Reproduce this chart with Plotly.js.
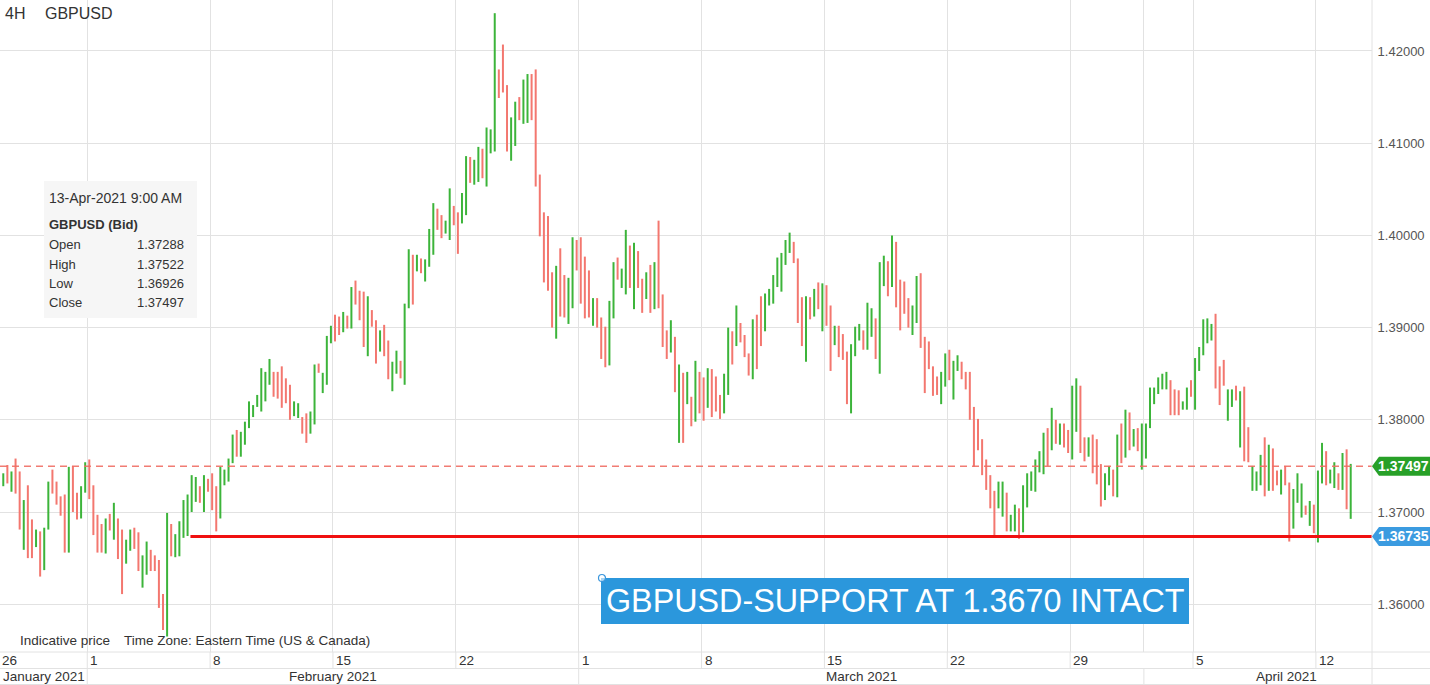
<!DOCTYPE html>
<html><head><meta charset="utf-8">
<script src="https://cdn.plot.ly/plotly-3.0.1.min.js"></script>
<style>html,body{margin:0;padding:0;background:#fff;overflow:hidden}#chart{width:1430px;height:685px}</style>
</head><body><div id="chart"></div>
<script>
// ---- GBPUSD 4H bars (26-Jan-2021 13:00 ET ... 13-Apr-2021 09:00 ET) ----
const open = [
1.3730,1.3749,1.3724,1.3756,1.3742,1.3661,1.3727,1.3690,1.3664,1.3677,
1.3639,1.3683,1.3744,1.3731,1.3715,1.3717,1.3658,1.3748,1.3719,1.3695,
1.3723,1.3755,1.3727,1.3695,1.3685,1.3657,1.3696,1.3672,1.3691,1.3679,
1.3646,1.3660,1.3681,1.3676,1.3620,1.3634,1.3657,1.3651,1.3646,1.3609,
1.3567,1.3685,1.3653,1.3654,1.3674,1.3676,1.3702,1.3713,1.3726,1.3702,
1.3734,1.3740,1.3726,1.3695,1.3731,1.3735,1.3755,1.3787,1.3762,1.3775,
1.3793,1.3805,1.3816,1.3811,1.3822,1.3840,1.3850,1.3850,1.3856,1.3843,
1.3836,1.3806,1.3804,1.3801,1.3805,1.3787,1.3797,1.3859,1.3831,1.3840,
1.3885,1.3912,1.3910,1.3897,1.3911,1.3901,1.3949,1.3938,1.3937,1.3871,
1.3917,1.3906,1.3876,1.3901,1.3884,1.3833,1.3852,1.3862,1.3840,1.3923,
1.3977,1.3963,1.3973,1.3952,1.3968,1.3981,1.4027,1.4020,1.4004,1.3997,
1.4030,1.4023,1.4015,1.4024,1.4083,1.4057,1.4060,1.4092,1.4055,1.4091,
1.4093,1.4178,1.4205,1.4161,1.4083,1.4099,1.4148,1.4123,1.4124,1.4173,
1.4178,1.4064,1.4023,1.4019,1.3958,1.3890,1.3984,1.3955,1.3906,1.3923,
1.3993,1.3996,1.3975,1.3960,1.3904,1.3930,1.3909,1.3899,1.3861,1.3912,
1.3974,1.3945,1.3938,1.3987,1.3922,1.3981,1.3951,1.3933,1.3966,1.3922,
1.4014,1.3934,1.3895,1.3875,1.3888,1.3777,1.3849,1.3819,1.3823,1.3800,
1.3850,1.3844,1.3815,1.3853,1.3845,1.3825,1.3809,1.3829,1.3894,1.3882,
1.3903,1.3890,1.3870,1.3846,1.3912,1.3932,1.3898,1.3926,1.3928,1.3946,
1.3941,1.3970,1.3983,1.3991,1.3973,1.3931,1.3865,1.3931,1.3914,1.3947,
1.3898,1.3944,1.3922,1.3883,1.3900,1.3891,1.3872,1.3809,1.3871,1.3888,
1.3895,1.3878,1.3892,1.3908,1.3852,1.3947,1.3970,1.3946,1.3991,1.3950,
1.3948,1.3930,1.3894,1.3907,1.3957,1.3888,1.3883,1.3856,1.3845,1.3819,
1.3838,1.3874,1.3824,1.3855,1.3861,1.3850,1.3850,1.3812,1.3799,1.3777,
1.3755,1.3738,1.3721,1.3706,1.3697,1.3719,1.3681,1.3681,1.3702,1.3680,
1.3707,1.3725,1.3724,1.3745,1.3743,1.3789,1.3769,1.3798,1.3775,1.3794,
1.3787,1.3759,1.3789,1.3835,1.3779,1.3762,1.3782,1.3777,1.3750,1.3715,
1.3731,1.3744,1.3718,1.3794,1.3761,1.3806,1.3773,1.3789,1.3748,1.3760,
1.3793,1.3819,1.3830,1.3835,1.3835,1.3841,1.3831,1.3830,1.3813,1.3813,
1.3841,1.3813,1.3855,1.3872,1.3885,1.3888,1.3913,1.3856,1.3863,1.3801,
1.3816,1.3835,1.3772,1.3834,1.3790,1.3725,1.3725,1.3731,1.3779,1.3725,
1.3767,1.3743,1.3721,1.3748,1.3730,1.3684,1.3712,1.3696,1.3705,1.3687,
1.3706,1.3669,1.3733,1.3764,1.3733,1.3728,1.3740,1.3726,1.3766,1.37288];
const high = [
1.3742,1.3751,1.3744,1.3758,1.3744,1.3713,1.3729,1.3692,1.3681,1.3679,
1.3683,1.3733,1.3746,1.3733,1.3717,1.3719,1.3749,1.3750,1.3721,1.3728,
1.3754,1.3757,1.3729,1.3697,1.3687,1.3693,1.3698,1.3710,1.3693,1.3681,
1.3670,1.3681,1.3683,1.3678,1.3653,1.3668,1.3659,1.3653,1.3648,1.3611,
1.3699,1.3687,1.3676,1.3690,1.3713,1.3719,1.3740,1.3738,1.3728,1.3740,
1.3736,1.3742,1.3728,1.3749,1.3746,1.3758,1.3784,1.3789,1.3787,1.3798,
1.3820,1.3816,1.3827,1.3856,1.3852,1.3866,1.3852,1.3852,1.3858,1.3845,
1.3838,1.3820,1.3818,1.3803,1.3807,1.3809,1.3860,1.3861,1.3851,1.3891,
1.3902,1.3914,1.3912,1.3917,1.3913,1.3944,1.3951,1.3940,1.3939,1.3934,
1.3919,1.3908,1.3897,1.3903,1.3886,1.3863,1.3875,1.3864,1.3926,1.3985,
1.3979,1.3979,1.3975,1.3974,1.4007,1.4035,1.4029,1.4022,1.4016,1.4051,
1.4032,1.4025,1.4046,1.4086,1.4085,1.4082,1.4096,1.4094,1.4117,1.4115,
1.4241,1.4180,1.4207,1.4163,1.4128,1.4145,1.4150,1.4169,1.4175,1.4175,
1.4180,1.4066,1.4025,1.4021,1.3960,1.3967,1.3986,1.3957,1.3954,1.3998,
1.3995,1.3998,1.3977,1.3962,1.3932,1.3932,1.3911,1.3901,1.3929,1.3971,
1.3976,1.3964,1.4006,1.3989,1.3992,1.3983,1.3953,1.3960,1.3968,1.3971,
1.4016,1.3936,1.3897,1.3908,1.3890,1.3860,1.3851,1.3852,1.3825,1.3864,
1.3852,1.3846,1.3856,1.3855,1.3847,1.3827,1.3850,1.3900,1.3896,1.3924,
1.3905,1.3892,1.3872,1.3909,1.3914,1.3934,1.3937,1.3942,1.3957,1.3976,
1.3981,1.3995,1.4003,1.3993,1.3975,1.3933,1.3934,1.3933,1.3942,1.3949,
1.3948,1.3946,1.3924,1.3902,1.3902,1.3893,1.3874,1.3882,1.3901,1.3904,
1.3897,1.3927,1.3921,1.3910,1.3971,1.3978,1.3972,1.4000,1.3993,1.3952,
1.3950,1.3932,1.3924,1.3956,1.3959,1.3890,1.3885,1.3858,1.3847,1.3852,
1.3872,1.3876,1.3864,1.3870,1.3863,1.3852,1.3852,1.3814,1.3801,1.3779,
1.3757,1.3740,1.3723,1.3733,1.3733,1.3721,1.3697,1.3708,1.3704,1.3729,
1.3742,1.3744,1.3757,1.3766,1.3786,1.3791,1.3813,1.3800,1.3796,1.3796,
1.3789,1.3837,1.3845,1.3837,1.3781,1.3781,1.3784,1.3779,1.3752,1.3742,
1.3750,1.3746,1.3784,1.3796,1.3811,1.3808,1.3790,1.3791,1.3796,1.3796,
1.3835,1.3835,1.3846,1.3850,1.3852,1.3843,1.3833,1.3832,1.3820,1.3835,
1.3843,1.3867,1.3879,1.3909,1.3910,1.3904,1.3915,1.3858,1.3865,1.3833,
1.3833,1.3837,1.3831,1.3836,1.3792,1.3750,1.3744,1.3762,1.3781,1.3773,
1.3769,1.3745,1.3746,1.3750,1.3732,1.3725,1.3742,1.3731,1.3707,1.3712,
1.3708,1.3745,1.3775,1.3766,1.3746,1.3754,1.3742,1.3764,1.3768,1.37522];
const low = [
1.3728,1.3731,1.3722,1.3720,1.3681,1.3659,1.3650,1.3650,1.3662,1.3630,
1.3637,1.3681,1.3720,1.3708,1.3696,1.3656,1.3656,1.3700,1.3692,1.3693,
1.3721,1.3714,1.3675,1.3656,1.3656,1.3655,1.3680,1.3670,1.3649,1.3611,
1.3644,1.3658,1.3660,1.3636,1.3618,1.3632,1.3636,1.3636,1.3596,1.3572,
1.3565,1.3652,1.3651,1.3652,1.3672,1.3674,1.3700,1.3711,1.3710,1.3700,
1.3722,1.3702,1.3679,1.3693,1.3729,1.3733,1.3753,1.3760,1.3760,1.3773,
1.3791,1.3803,1.3814,1.3809,1.3820,1.3838,1.3825,1.3823,1.3813,1.3818,
1.3800,1.3804,1.3802,1.3785,1.3775,1.3785,1.3795,1.3851,1.3829,1.3838,
1.3883,1.3885,1.3892,1.3895,1.3899,1.3899,1.3925,1.3908,1.3879,1.3869,
1.3901,1.3861,1.3874,1.3869,1.3844,1.3831,1.3850,1.3845,1.3838,1.3921,
1.3925,1.3961,1.3959,1.3950,1.3966,1.3979,1.4006,1.3997,1.4002,1.3995,
1.4011,1.3980,1.4013,1.4022,1.4057,1.4055,1.4058,1.4062,1.4053,1.4089,
1.4091,1.4149,1.4155,1.4091,1.4081,1.4097,1.4125,1.4121,1.4122,1.4125,
1.4053,1.3999,1.3949,1.3940,1.3900,1.3888,1.3912,1.3911,1.3904,1.3921,
1.3962,1.3926,1.3910,1.3911,1.3902,1.3900,1.3866,1.3857,1.3859,1.3910,
1.3952,1.3943,1.3936,1.3943,1.3920,1.3943,1.3916,1.3931,1.3916,1.3920,
1.3921,1.3879,1.3866,1.3873,1.3830,1.3775,1.3775,1.3817,1.3793,1.3798,
1.3807,1.3799,1.3813,1.3803,1.3809,1.3801,1.3807,1.3827,1.3860,1.3880,
1.3884,1.3868,1.3848,1.3844,1.3855,1.3880,1.3896,1.3924,1.3926,1.3944,
1.3939,1.3968,1.3981,1.3970,1.3905,1.3880,1.3863,1.3909,1.3912,1.3920,
1.3896,1.3902,1.3853,1.3881,1.3868,1.3865,1.3817,1.3807,1.3869,1.3886,
1.3876,1.3876,1.3890,1.3866,1.3850,1.3945,1.3934,1.3944,1.3922,1.3897,
1.3915,1.3900,1.3892,1.3905,1.3878,1.3829,1.3855,1.3826,1.3827,1.3817,
1.3836,1.3843,1.3822,1.3853,1.3844,1.3833,1.3800,1.3749,1.3767,1.3740,
1.3724,1.3704,1.3675,1.3704,1.3695,1.3679,1.3679,1.3679,1.3671,1.3678,
1.3705,1.3723,1.3722,1.3743,1.3741,1.3750,1.3767,1.3774,1.3773,1.3770,
1.3764,1.3757,1.3787,1.3764,1.3755,1.3760,1.3742,1.3730,1.3706,1.3713,
1.3729,1.3717,1.3716,1.3753,1.3759,1.3767,1.3771,1.3766,1.3746,1.3758,
1.3791,1.3817,1.3828,1.3833,1.3833,1.3805,1.3805,1.3805,1.3811,1.3811,
1.3825,1.3811,1.3853,1.3870,1.3883,1.3886,1.3834,1.3816,1.3837,1.3799,
1.3814,1.3821,1.3770,1.3755,1.3754,1.3723,1.3723,1.3729,1.3717,1.3723,
1.3723,1.3729,1.3719,1.3729,1.3668,1.3682,1.3710,1.3694,1.3697,1.3685,
1.3677,1.3667,1.3731,1.3729,1.3731,1.3726,1.3724,1.3724,1.3703,1.36926];
const close = [
1.3740,1.3733,1.3742,1.3722,1.3683,1.3711,1.3652,1.3652,1.3679,1.3632,
1.3681,1.3731,1.3722,1.3710,1.3698,1.3658,1.3747,1.3702,1.3694,1.3726,
1.3752,1.3716,1.3677,1.3658,1.3658,1.3691,1.3682,1.3708,1.3651,1.3613,
1.3668,1.3679,1.3662,1.3638,1.3651,1.3666,1.3638,1.3638,1.3598,1.3574,
1.3697,1.3654,1.3674,1.3688,1.3711,1.3717,1.3738,1.3736,1.3712,1.3738,
1.3724,1.3704,1.3681,1.3747,1.3744,1.3756,1.3782,1.3762,1.3785,1.3796,
1.3818,1.3814,1.3825,1.3854,1.3850,1.3864,1.3827,1.3825,1.3815,1.3820,
1.3802,1.3818,1.3816,1.3787,1.3777,1.3807,1.3858,1.3853,1.3849,1.3889,
1.3900,1.3887,1.3894,1.3915,1.3901,1.3942,1.3927,1.3910,1.3881,1.3932,
1.3903,1.3863,1.3895,1.3871,1.3846,1.3861,1.3873,1.3847,1.3924,1.3983,
1.3927,1.3977,1.3961,1.3972,1.4005,1.4033,1.4008,1.3999,1.4014,1.4049,
1.4013,1.3982,1.4044,1.4084,1.4059,1.4080,1.4094,1.4064,1.4115,1.4113,
1.4239,1.4151,1.4157,1.4093,1.4126,1.4143,1.4127,1.4167,1.4173,1.4127,
1.4055,1.4001,1.3951,1.3942,1.3902,1.3965,1.3914,1.3913,1.3952,1.3996,
1.3964,1.3928,1.3912,1.3913,1.3930,1.3902,1.3868,1.3859,1.3927,1.3969,
1.3954,1.3962,1.4004,1.3945,1.3990,1.3945,1.3918,1.3958,1.3918,1.3969,
1.3923,1.3881,1.3868,1.3906,1.3832,1.3858,1.3777,1.3850,1.3795,1.3862,
1.3809,1.3801,1.3854,1.3805,1.3811,1.3803,1.3848,1.3898,1.3862,1.3922,
1.3886,1.3870,1.3850,1.3907,1.3857,1.3882,1.3935,1.3940,1.3955,1.3974,
1.3979,1.3993,1.4001,1.3972,1.3907,1.3882,1.3932,1.3911,1.3940,1.3922,
1.3946,1.3904,1.3855,1.3900,1.3870,1.3867,1.3819,1.3880,1.3899,1.3902,
1.3878,1.3925,1.3919,1.3868,1.3969,1.3976,1.3936,1.3998,1.3924,1.3899,
1.3917,1.3902,1.3922,1.3954,1.3880,1.3831,1.3857,1.3828,1.3829,1.3850,
1.3870,1.3845,1.3862,1.3868,1.3846,1.3835,1.3802,1.3751,1.3769,1.3742,
1.3726,1.3706,1.3677,1.3731,1.3731,1.3681,1.3695,1.3706,1.3673,1.3727,
1.3740,1.3742,1.3755,1.3764,1.3784,1.3752,1.3811,1.3776,1.3794,1.3772,
1.3766,1.3835,1.3843,1.3766,1.3757,1.3779,1.3744,1.3732,1.3708,1.3740,
1.3748,1.3719,1.3782,1.3755,1.3809,1.3769,1.3788,1.3768,1.3794,1.3794,
1.3833,1.3833,1.3844,1.3848,1.3850,1.3807,1.3807,1.3807,1.3818,1.3833,
1.3827,1.3865,1.3877,1.3907,1.3908,1.3902,1.3836,1.3818,1.3839,1.3831,
1.3831,1.3823,1.3829,1.3757,1.3756,1.3748,1.3742,1.3760,1.3719,1.3771,
1.3725,1.3731,1.3744,1.3731,1.3670,1.3723,1.3740,1.3729,1.3699,1.3710,
1.3679,1.3743,1.3773,1.3731,1.3744,1.3752,1.3726,1.3762,1.3705,1.37497];

// time axis: week labels (Monday 00:00 ET boundaries, as bar positions) and months
const dayLabels    = ['26','1','8','15','22','1','8','15','22','29','5','12'];
const dayBoundary  = [-3.5,20.5,50.5,80.5,110.5,140.5,170.5,200.5,230.5,260.5,290.5,320.5];
const monthLabels  = ['January 2021','February 2021','March 2021','April 2021'];
const monthBoundary= [20.5,140.5,278.5];
const yTicks = [1.36,1.37,1.38,1.39,1.40,1.41,1.42];
const lastPrice = 1.37497, supportLevel = 1.36735, supportStart = 45.7;
const tip = {time:'13-Apr-2021 9:00 AM', name:'GBPUSD (Bid)', rows:[['Open','1.37288'],['High','1.37522'],['Low','1.36926'],['Close','1.37497']]};
const noteText = 'GBPUSD-SUPPORT AT 1.3670 INTACT';

// ---- geometry ----
const PW = 1372, PH = 652;
const XR = [-0.8, 334.2], YR = [1.35482, 1.42553];
const fx = p => p / PW, fy = p => 1 - p / PH;
const ix = i => (i - XR[0]) / (XR[1] - XR[0]) * PW;
const FONT = 'Arial, "Liberation Sans", Helvetica, sans-serif';
const idx = close.map((_, i) => i);

const trace = {
  type: 'ohlc', x: idx, open, high, low, close,
  increasing: {line: {color: '#3cb43a', width: 2}},
  decreasing: {line: {color: '#f3776f', width: 2}},
  tickwidth: 0, hoverinfo: 'skip', showlegend: false
};

const GRID = '#e2e2e2';
const shapes = [];
const L = (x0, y0, x1, y1, color, width) => ({type:'line', xref:'paper', yref:'paper', x0:fx(x0), x1:fx(x1), y0:fy(y0), y1:fy(y1), line:{color, width}, layer:'above'});
const R = (x0, y0, x1, y1, fill, extra) => Object.assign({type:'rect', xref:'paper', yref:'paper', x0:fx(x0), x1:fx(x1), y0:fy(y0), y1:fy(y1), fillcolor:fill, line:{width:0}, layer:'above'}, extra || {});

// price lines
shapes.push({type:'line', xref:'paper', yref:'y', x0:0, x1:1, y0:lastPrice, y1:lastPrice, line:{color:'rgba(240,110,100,0.9)', width:1.5, dash:'7px,5px'}, layer:'above'});
shapes.push({type:'line', xref:'x', yref:'y', x0:supportStart, x1:XR[1], y0:supportLevel, y1:supportLevel, line:{color:'#f01010', width:3}, layer:'above'});
// date rows
shapes.push(L(0, 652, 1430, 652, GRID, 1));
shapes.push(L(0, 668.5, 1430, 668.5, GRID, 1));
shapes.push(L(0, 684.5, 1430, 684.5, GRID, 1));
dayBoundary.forEach(b => { if (b > XR[0]) shapes.push(L(ix(b), 652, ix(b), 668.5, GRID, 1)); });
monthBoundary.forEach(b => shapes.push(L(ix(b), 668.5, ix(b), 685, GRID, 1)));
shapes.push(L(PW, 0, PW, 685, GRID, 1));
// info box
shapes.push(R(44, 181, 197, 318, '#f6f6f6'));
// note box + anchor dot
shapes.push(R(601, 578, 1189, 624, '#2b97dc'));
shapes.push({type:'circle', xref:'paper', yref:'paper', x0:fx(598.5), x1:fx(605.5), y0:fy(581.5), y1:fy(574.5), fillcolor:'rgba(255,255,255,0.6)', line:{color:'#3a96dc', width:1.2}, layer:'above'});
// price tags
const tagPath = (py) => {
  const t = 9.5;
  const pts = [[1372, py], [1379, py - t], [1430, py - t], [1430, py + t], [1379, py + t]];
  return 'M' + pts.map(p => fx(p[0]) + ',' + fy(p[1])).join(' L') + ' Z';
};
const yPix = p => (YR[1] - p) / (YR[1] - YR[0]) * PH;
shapes.push({type:'path', xref:'paper', yref:'paper', path:tagPath(yPix(lastPrice)), fillcolor:'#28a028', line:{width:0}, layer:'above'});
shapes.push({type:'path', xref:'paper', yref:'paper', path:tagPath(yPix(supportLevel)), fillcolor:'#3b9be0', line:{width:0}, layer:'above'});

const annotations = [];
const A = (px, py, text, size, opts) => annotations.push(Object.assign({xref:'paper', yref:'paper', x:fx(px), y:fy(py), text, showarrow:false, xanchor:'left', yanchor:'middle', borderpad:0, borderwidth:0, font:{family:FONT, size, color:'#333'}}, opts || {}));
A(5, 14, '4H', 16);
A(45, 14, 'GBPUSD', 16);
A(49, 198, tip.time, 14);
A(49, 224, '<b>' + tip.name + '</b>', 13);
tip.rows.forEach((r, k) => {
  A(49, 245 + 19 * k, r[0], 13);
  A(184, 245 + 19 * k, r[1], 13, {xanchor:'right'});
});
A(20, 640, 'Indicative price', 13.5);
A(124, 640, 'Time Zone: Eastern Time (US & Canada)', 13.5);
dayLabels.forEach((t, k) => A(Math.max(2, ix(dayBoundary[k]) + 3), 660, t, 13.5));
const mb = [0].concat(monthBoundary.map(ix)).concat([1430]);
monthLabels.forEach((t, k) => A((mb[k] + mb[k + 1]) / 2, 677, t, 13.5, {xanchor:'center'}));
A(895, 601, noteText, 32.3, {xanchor:'center', font:{family:FONT, size:32.3, color:'#ffffff'}});
A(1404, yPix(lastPrice), '<b>' + lastPrice.toFixed(5) + '</b>', 14, {xanchor:'center', font:{family:FONT, size:14, color:'#ffffff'}});
A(1404, yPix(supportLevel), '<b>' + supportLevel.toFixed(5) + '</b>', 14, {xanchor:'center', font:{family:FONT, size:14, color:'#ffffff'}});

const layout = {
  width: 1430, height: 685,
  margin: {l:0, r:58, t:0, b:33, pad:0},
  paper_bgcolor: '#ffffff', plot_bgcolor: '#ffffff',
  showlegend: false, hovermode: false, dragmode: false,
  xaxis: {type:'linear', range:XR, tickvals: dayBoundary.slice(1).concat([278.5]), showticklabels:false, ticks:'',
          showgrid:true, gridcolor:GRID, gridwidth:1, zeroline:false, showline:false, rangeslider:{visible:false}, fixedrange:true},
  yaxis: {range:YR, side:'right', tickvals:yTicks, ticktext:yTicks.map(v => v.toFixed(5)), ticks:'outside', ticklen:2,
          tickcolor:'rgba(0,0,0,0)', tickfont:{family:FONT, size:13, color:'#555'}, showgrid:true, gridcolor:GRID, gridwidth:1,
          zeroline:false, showline:false, fixedrange:true},
  shapes, annotations
};
Plotly.newPlot('chart', [trace], layout, {staticPlot:true, displayModeBar:false});
</script>
</body></html>
